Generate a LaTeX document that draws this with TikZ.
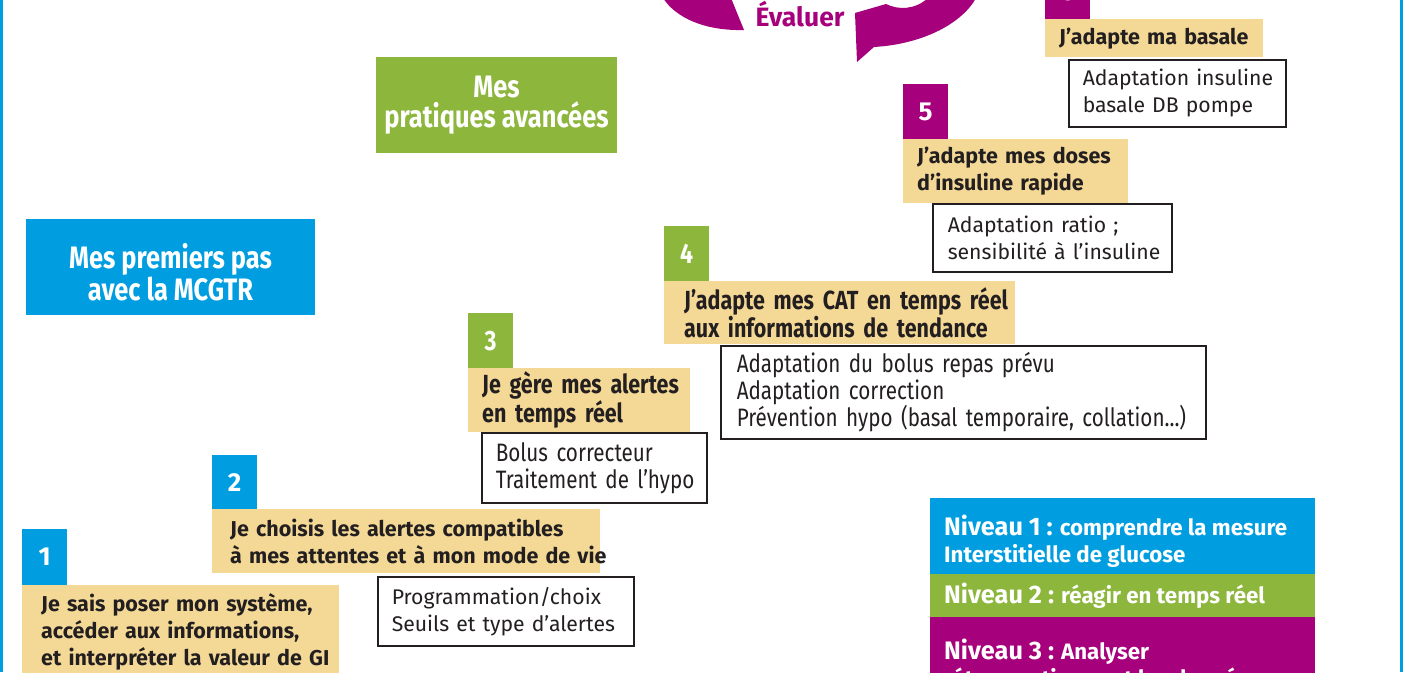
\documentclass[tikz,border=0pt]{standalone}
\usepackage{fontspec}
\setmainfont{Fira Sans}
\newfontfamily\condf[FakeStretch=0.82]{Fira Sans}
\definecolor{cblue}{HTML}{009EE0}
\definecolor{cgreen}{HTML}{8DB63C}
\definecolor{cmag}{HTML}{A6007C}
\definecolor{cyel}{HTML}{F4D996}
\definecolor{ink}{HTML}{231F20}
\tikzset{
  numbox/.style={fill=#1, text=white, font=\bfseries\fontsize{26}{26}\selectfont,
    minimum width=45pt, inner sep=0pt, anchor=north west},
  cnumbox/.style={numbox=#1, font=\condf\bfseries\fontsize{28}{28}\selectfont},
  ttl/.style={fill=cyel, text=ink, font=\bfseries\fontsize{21.5}{27}\selectfont,
    align=left, anchor=north west, inner ysep=0pt},
  cttl/.style={ttl, font=\condf\bfseries\fontsize{26.2}{27}\selectfont},
  detail/.style={draw=ink, line width=1.5pt, fill=white, text=ink,
    font=\fontsize{21.2}{27}\selectfont, align=left, anchor=north west, inner ysep=0pt},
  cdetail/.style={detail, font=\condf\fontsize{25.2}{27}\selectfont},
  head/.style={fill=#1, anchor=north west, inner sep=0pt},
  headtxt/.style={text=white, font=\condf\bfseries\fontsize{31}{30}\selectfont,
    align=center, inner sep=0pt},
  band/.style={fill=#1, anchor=north west, inner sep=0pt, minimum width=385pt},
  legtxt/.style={text=white, font=\bfseries\fontsize{22.3}{27}\selectfont, align=left, inner sep=0pt},
}
\newcommand{\bignv}[1]{{\fontsize{25.3}{27}\selectfont #1}}
\newcommand{\oneline}[1]{\mbox{#1}}
\begin{document}
\begin{tikzpicture}[x=1pt,y=-1pt]
\useasboundingbox (0,0) rectangle (1404,672);
\clip (0,0) rectangle (1404,672);
\fill[white] (0,0) rectangle (1404,672);
% frame lines
\fill[cblue] (0,0) rectangle (3,672);
\fill[cblue] (1400,0) rectangle (1403.3,672);

% cycle arrows
\fill[cmag] (663,-2) .. controls (676,18) and (705,31) .. (744,30) -- (731,-2) -- cycle;
\fill[cmag] (857,62) -- (855,13) -- (886,4)
  .. controls (898,10) and (915,10) .. (928,-2) -- (976,-2)
  .. controls (963,22) and (925,44) .. (874,47) -- cycle;
\node[text=cmag, font=\bfseries\fontsize{26.5}{26.5}\selectfont] (evaluer) at (800,14) {Évaluer};

% headers
\node[head=cgreen, minimum width=241pt, minimum height=96pt] (pratiques) at (376,57) {};
\node[headtxt] (pratiquest) at (496.5,105.5) {Mes\\pratiques avancées};
\node[head=cblue, minimum width=289pt, minimum height=96pt] (premiers) at (26,219) {};
\node[headtxt] (premierst) at (170.5,272) {Mes premiers pas\\avec la MCGTR};

% step 1
\node[ttl, inner xsep=19pt, text width=279pt, minimum height=94pt] (t1) at (22,585)
  {\oneline{Je sais poser mon système,}\\\oneline{accéder aux informations,}\\\oneline{et interpréter la valeur de GI}};
\node[numbox=cblue, minimum height=56pt] (n1) at (22,529) {1};

% step 2
\node[ttl, inner xsep=18pt, text width=352pt, minimum height=64pt] (t2) at (212,509)
  {\oneline{Je choisis les alertes compatibles}\\\oneline{à mes attentes et à mon mode de vie}};
\node[numbox=cblue, minimum height=54pt] (n2) at (212,455) {2};
\node[detail, inner xsep=14pt, text width=228pt, minimum height=69pt] (d2) at (377,576)
  {\oneline{Programmation/choix}\\\oneline{Seuils et type d’alertes}};

% step 3
\node[cttl, inner xsep=14pt, text width=194pt, minimum height=64pt] (t3) at (468,368)
  {\oneline{Je gère mes alertes}\\\oneline{en temps réel}};
\node[cnumbox=cgreen, minimum height=55pt] (n3) at (468,313) {3};
\node[cdetail, inner xsep=14pt, text width=197pt, minimum height=70pt] (d3) at (481,432)
  {\oneline{Bolus correcteur}\\\oneline{Traitement de l’hypo}};

% step 4
\node[cttl, inner xsep=20pt, text width=311pt, minimum height=63pt] (t4) at (664,281)
  {\oneline{J’adapte mes CAT en temps réel}\\\oneline{aux informations de tendance}};
\node[cnumbox=cgreen, minimum height=55pt] (n4) at (664,226) {4};
\node[cdetail, inner xsep=16pt, text width=453pt, minimum height=93pt] (d4) at (720,345)
  {\oneline{Adaptation du bolus repas prévu}\\\oneline{Adaptation correction}\\\oneline{Prévention hypo (basal temporaire, collation...)}};

% step 5
\node[ttl, inner xsep=14pt, text width=197pt, minimum height=64pt] (t5) at (903,139)
  {\oneline{J’adapte mes doses}\\\oneline{d’insuline rapide}};
\node[numbox=cmag, minimum height=55pt] (n5) at (903,84) {5};
\node[detail, inner xsep=15pt, text width=209pt, minimum height=68pt] (d5) at (932,203)
  {\oneline{Adaptation ratio ;}\\\oneline{sensibilité à l’insuline}};

% step 6
\node[ttl, inner xsep=14pt, text width=190pt, minimum height=38pt] (t6) at (1045,19)
  {\oneline{J’adapte ma basale}};
\node[numbox=cmag, minimum height=55pt] (n6) at (1045,-36) {6};
\node[detail, inner xsep=14pt, text width=189pt, minimum height=67pt] (d6) at (1068,59)
  {\oneline{Adaptation insuline}\\\oneline{basale DB pompe}};

% legend
\node[band=cblue, minimum height=76pt] (l1) at (930,498) {};
\node[band=cgreen, minimum height=43pt] (l2) at (930,574) {};
\node[band=cmag, minimum height=90pt] (l3) at (930,617) {};
\node[legtxt, anchor=west] (l1t) at (944,541.5) {\bignv{Niveau 1 :} comprendre la mesure\\Interstitielle de glucose};
\node[legtxt, anchor=west] (l2t) at (944,596) {\bignv{Niveau 2 :} réagir en temps réel};
\node[legtxt, anchor=north west] (l3t) at (944,639) {\bignv{Niveau 3 :} Analyser\\rétrospectivement les données};
\end{tikzpicture}
\end{document}
